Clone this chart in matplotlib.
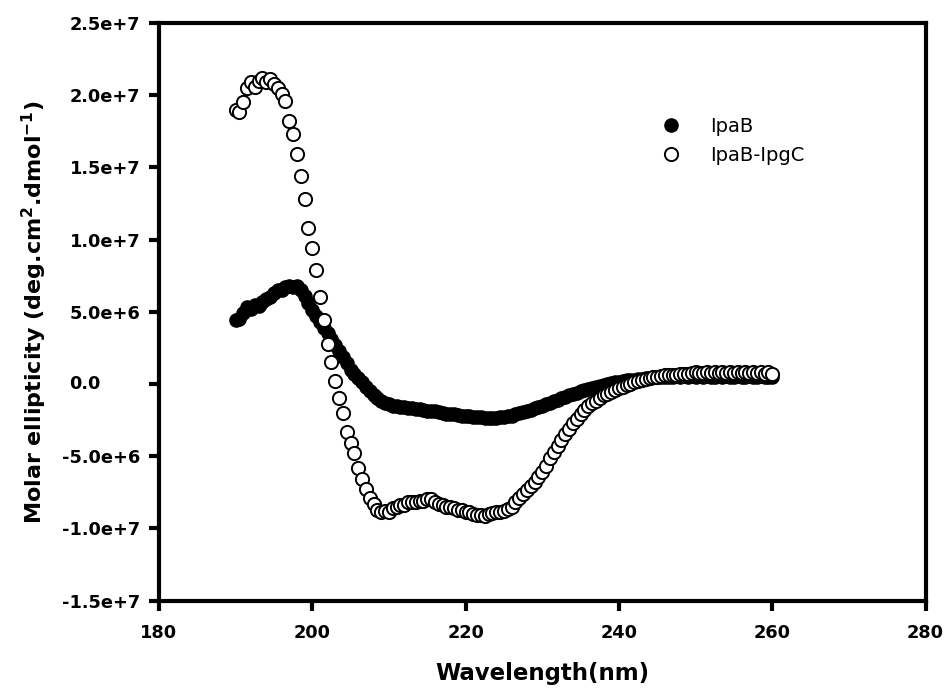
import numpy as np
import matplotlib
matplotlib.use('Agg')
import matplotlib.pyplot as plt
from matplotlib import transforms

# CD spectra, wavelength grid in nm (0.5 nm steps)
wavelength = np.arange(190.0, 260.25, 0.5)

# molar ellipticity, in units of 1e6 deg.cm2.dmol-1
ipab = [
    4.4, 4.5, 4.9, 5.3, 5.2, 5.5, 5.4, 5.7, 5.9, 6.0,
    6.3, 6.5, 6.5, 6.7, 6.8, 6.7, 6.8, 6.5, 6.1, 5.6,
    5.1, 4.7, 4.3, 3.9, 3.5, 3.1, 2.7, 2.3, 1.9, 1.45,
    1.0, 0.7, 0.4, 0.1, -0.2, -0.5, -0.8, -1.0, -1.15, -1.3,
    -1.4, -1.5, -1.55, -1.6, -1.6, -1.65, -1.7, -1.75, -1.75, -1.8,
    -1.85, -1.85, -1.9, -1.95, -2.0, -2.05, -2.1, -2.1, -2.15, -2.2,
    -2.2, -2.25, -2.3, -2.3, -2.3, -2.35, -2.35, -2.35, -2.35, -2.3,
    -2.3, -2.25, -2.2, -2.1, -2.0, -1.95, -1.85, -1.8, -1.7, -1.6,
    -1.5, -1.4, -1.3, -1.2, -1.1, -1.0, -0.9, -0.8, -0.7, -0.6,
    -0.5, -0.4, -0.35, -0.3, -0.2, -0.15, -0.05, 0.0, 0.05, 0.1,
    0.15, 0.2, 0.25, 0.25, 0.3, 0.35, 0.35, 0.4, 0.4, 0.45,
    0.45, 0.5, 0.5, 0.5, 0.5, 0.55, 0.5, 0.55, 0.5, 0.55,
    0.5, 0.55, 0.5, 0.55, 0.5, 0.5, 0.55, 0.5, 0.55, 0.5,
    0.5, 0.55, 0.5, 0.5, 0.55, 0.5, 0.5, 0.55, 0.5, 0.5,
    0.5,
]

ipab_ipgc = [
    19.0, 18.8, 19.5, 20.5, 20.9, 20.6, 21.0, 21.2, 20.9, 21.1,
    20.8, 20.5, 20.1, 19.6, 18.2, 17.3, 15.9, 14.4, 12.8, 10.8,
    9.4, 7.9, 6.0, 4.4, 2.8, 1.5, 0.2, -1.0, -2.0, -3.3,
    -4.1, -4.8, -5.8, -6.6, -7.3, -7.9, -8.3, -8.7, -8.9, -8.8,
    -8.9, -8.6, -8.5, -8.4, -8.4, -8.2, -8.2, -8.2, -8.1, -8.1,
    -8.0, -8.0, -8.2, -8.3, -8.4, -8.5, -8.5, -8.6, -8.7, -8.7,
    -8.9, -8.9, -9.0, -9.1, -9.1, -9.15, -9.0, -8.95, -8.9, -8.85,
    -8.8, -8.65, -8.55, -8.2, -7.9, -7.6, -7.35, -7.1, -6.8, -6.45,
    -6.1, -5.7, -5.1, -4.7, -4.3, -3.9, -3.5, -3.1, -2.7, -2.4,
    -2.1, -1.8, -1.55, -1.35, -1.15, -0.95, -0.8, -0.7, -0.55, -0.4,
    -0.3, -0.2, -0.1, 0.0, 0.1, 0.2, 0.3, 0.35, 0.4, 0.45,
    0.5, 0.55, 0.6, 0.6, 0.65, 0.65, 0.7, 0.7, 0.7, 0.75,
    0.8, 0.75, 0.75, 0.8, 0.75, 0.8, 0.75, 0.8, 0.75, 0.8,
    0.75, 0.8, 0.75, 0.8, 0.75, 0.8, 0.75, 0.8, 0.7, 0.8,
    0.7,
]

series_names = ['IpaB', 'IpaB-IpgC']

xticks = [180, 200, 220, 240, 260, 280]
yticks = [-1.5e7, -1.0e7, -5.0e6, 0.0, 5.0e6, 1.0e7, 1.5e7, 2.0e7, 2.5e7]
ytick_labels = ['-1.5e+7', '-1.0e+7', '-5.0e+6', '0.0', '5.0e+6',
                '1.0e+7', '1.5e+7', '2.0e+7', '2.5e+7']

plt.rcParams['font.family'] = ['DejaVu Sans']
plt.rcParams['mathtext.default'] = 'bf'

fig = plt.figure(figsize=(9.48, 6.92), dpi=100)
ax = fig.add_axes([0.1677, 0.1322, 0.8086, 0.8346])

ax.plot(wavelength, np.array(ipab) * 1e6, 'o', ms=9.5, mfc='black',
        mec='black', mew=1.0, label=series_names[0])
ax.plot(wavelength, np.array(ipab_ipgc) * 1e6, 'o', ms=9.5, mfc='white',
        mec='black', mew=1.4, label=series_names[1])

ax.set_xlim(180, 280)
ax.set_ylim(-1.5e7, 2.5e7)
ax.set_xticks(xticks)
ax.set_xticklabels([str(v) for v in xticks])
ax.set_yticks(yticks)
# the 0.0 label is left aligned in the original, drawn separately below
ax.set_yticklabels([s if s != '0.0' else '' for s in ytick_labels])

for sp in ax.spines.values():
    sp.set_linewidth(3.0)
ax.tick_params(axis='both', direction='out', length=7, width=3.0,
               labelsize=12.8)
ax.tick_params(axis='x', pad=10)
ax.tick_params(axis='y', pad=6.5)
for lab in ax.get_xticklabels() + ax.get_yticklabels():
    lab.set_fontweight('bold')

trans = transforms.blended_transform_factory(fig.transFigure, ax.transData)
ax.text(69 / 948, 0.0, '0.0', transform=trans, ha='left', va='center',
        fontsize=12.8, fontweight='bold')

ax.set_xlabel('Wavelength(nm)', fontsize=16.5, fontweight='bold')
ax.xaxis.set_label_coords(0.5, -0.127)
ax.xaxis.label.set_verticalalignment('center')
ax.set_ylabel('Molar ellipticity (deg.cm$^2$.dmol$^{-1}$)', fontsize=16,
              fontweight='bold')
ax.yaxis.set_label_coords(-0.162, 0.5)
ax.yaxis.label.set_verticalalignment('center')

ax.legend(loc='center left', bbox_to_anchor=(0.655, 0.796), frameon=False,
          fontsize=14, handlelength=1.0, handletextpad=1.5, labelspacing=0.5,
          borderpad=0, borderaxespad=0, numpoints=1)

fig.savefig('out.png', dpi=100)
